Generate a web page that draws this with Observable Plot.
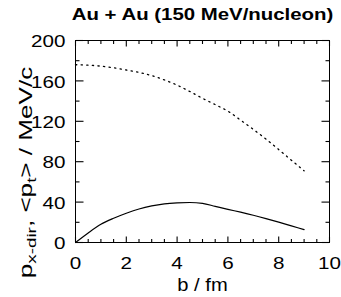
<!DOCTYPE html>
<html><head><meta charset="utf-8">
<script src="https://cdn.jsdelivr.net/npm/d3@7"></script>
<script src="https://cdn.jsdelivr.net/npm/@observablehq/plot@0.6"></script>
<style>body{margin:0;background:#fff} svg{display:block}</style>
</head><body><div id="chart"></div>
<script>
const title = "Au + Au (150 MeV/nucleon)";
const xLabel = "b / fm";
const yLabelParts = [["p", false], ["x-dir", true], [", <p", false], ["t", true], ["> / MeV/c", false]];
const b      = [0, 0.5, 1, 1.5, 2, 2.5, 3, 3.5, 4, 4.5, 5, 5.5, 6, 6.5, 7, 7.5, 8, 8.5, 9];
const pxDir  = [0, 9.5, 18, 24, 29, 33.2, 36.2, 38.2, 39.2, 39.6, 38.8, 35.8, 32.8, 30, 27, 23.7, 20.2, 16.5, 12.8];
const ptMean = [176, 175.6, 174.6, 173, 170.8, 168.4, 165.2, 161, 155.8, 149.5, 142.8, 136.5, 130, 121.2, 112, 102.4, 92, 81.5, 71];
const xTicks = [0, 2, 4, 6, 8, 10];
const xMinorTicks = [0.5, 1, 1.5, 2.5, 3, 3.5, 4.5, 5, 5.5, 6.5, 7, 7.5, 8.5, 9, 9.5];
const yTicks = [0, 40, 80, 120, 160, 200];
const yMinorTicks = [20, 60, 100, 140, 180];

const W = 341, H = 297, mL = 75, mR = 12, mT = 40, mB = 55;
const iw = W - mL - mR, ih = H - mT - mB;
const xDom = [0, 10], yDom = [0, 200];
const ux = (xDom[1] - xDom[0]) / iw;  // data units per pixel
const uy = (yDom[1] - yDom[0]) / ih;
const data = b.map((x, i) => ({b: x, px: pxDir[i], pt: ptMean[i]}));
const font = "'Liberation Sans', Arial, Helvetica, sans-serif";

// inward tick segments on all four sides
const tickSegs = [
  ...xTicks.flatMap(v => [
    {x1: v, x2: v, y1: yDom[0], y2: yDom[0] + 6 * uy},
    {x1: v, x2: v, y1: yDom[1], y2: yDom[1] - 6 * uy}]),
  ...xMinorTicks.flatMap(v => [
    {x1: v, x2: v, y1: yDom[0], y2: yDom[0] + 3.5 * uy},
    {x1: v, x2: v, y1: yDom[1], y2: yDom[1] - 3.5 * uy}]),
  ...yTicks.flatMap(v => [
    {x1: xDom[0], x2: xDom[0] + 8 * ux, y1: v, y2: v},
    {x1: xDom[1], x2: xDom[1] - 8 * ux, y1: v, y2: v}]),
  ...yMinorTicks.flatMap(v => [
    {x1: xDom[0], x2: xDom[0] + 4 * ux, y1: v, y2: v},
    {x1: xDom[1], x2: xDom[1] - 4 * ux, y1: v, y2: v}])
];

const plot = Plot.plot({
  width: W, height: H, marginLeft: mL, marginRight: mR, marginTop: mT, marginBottom: mB,
  x: {domain: xDom, axis: null},
  y: {domain: yDom, axis: null},
  style: {fontFamily: font, background: "#fff", color: "#000", overflow: "visible"},
  marks: [
    Plot.frame({stroke: "#000", strokeWidth: 1, fill: "none"}),
    Plot.link(tickSegs, {x1: "x1", y1: "y1", x2: "x2", y2: "y2", stroke: "#000", strokeWidth: 1.1}),
    Plot.line(data, {x: "b", y: "pt", curve: "monotone-x", stroke: "#000", strokeWidth: 1.3, strokeDasharray: "1.3 4.3"}),
    Plot.line(data, {x: "b", y: "px", curve: "monotone-x", stroke: "#000", strokeWidth: 1.2}),
    Plot.text(xTicks, {x: d => d, text: d => String(d), frameAnchor: "bottom", lineAnchor: "bottom", dy: 26, fontSize: 16.5, fill: "#000"}),
    Plot.text(yTicks, {y: d => d, text: d => String(d), frameAnchor: "left", textAnchor: "end", lineAnchor: "middle", dx: -10, dy: 1.5, fontSize: 16.5, fill: "#000"}),
    Plot.text([title], {text: d => d, frameAnchor: "top", lineAnchor: "bottom", dy: -20.5, fontSize: 17, fontWeight: "bold", fill: "#000"}),
    Plot.text([xLabel], {text: d => d, frameAnchor: "bottom", lineAnchor: "bottom", dy: 48, fontSize: 18, fill: "#000"}),
    Plot.text([yLabelParts.map(p => p[0]).join("")], {text: d => d, frameAnchor: "left", rotate: -90, textAnchor: "middle", lineAnchor: "bottom", dx: -44, dy: 31, fontSize: 18, fill: "#000"})
  ]
});
document.getElementById("chart").appendChild(plot);

// text-mark groups in mark order
const textGroups = Array.from(plot.querySelectorAll("g")).filter(g => g.querySelector(":scope > text"));
const [gxt, gyt, gtitle, gxl, gyl] = textGroups;

// rich y label with subscripts
const yl = gyl && gyl.querySelector("text");
if (yl) {
  yl.textContent = "";
  let shift = 0;
  for (const [s, sub] of yLabelParts) {
    const ts = document.createElementNS("http://www.w3.org/2000/svg", "tspan");
    const target = sub ? 4 : 0;
    if (target !== shift) { ts.setAttribute("dy", target - shift); shift = target; }
    if (sub) ts.setAttribute("font-size", 13);
    ts.textContent = s;
    yl.appendChild(ts);
  }
}

// widen glyphs along the reading direction to match the reference's wide face
function widen(g, s) {
  if (!g) return;
  g.querySelectorAll(":scope > text").forEach(t => {
    let tr = t.getAttribute("transform") || "";
    if (t.hasAttribute("x")) {
      const x = +t.getAttribute("x");
      t.removeAttribute("x");
      tr += ` translate(${x},0)`;
    }
    t.setAttribute("transform", `${tr} scale(${s},1)`);
  });
}
widen(gtitle, 1.2);
widen(gxt, 1.25);
widen(gyt, 1.25);
widen(gxl, 1.12);
widen(gyl, 1.45);
</script>
</body></html>
